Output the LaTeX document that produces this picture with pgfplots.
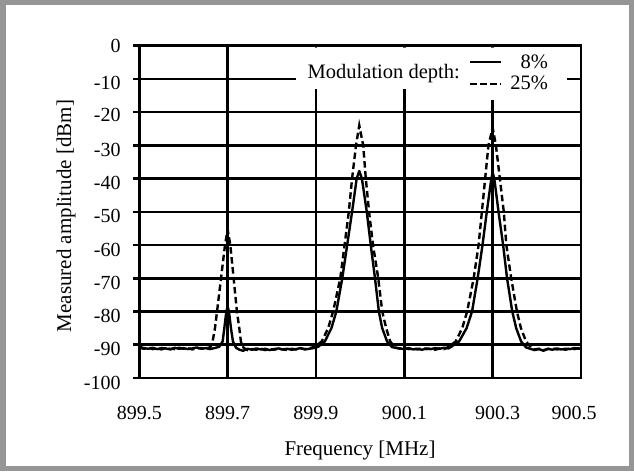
\documentclass[border=0pt]{standalone}
\usepackage{fontspec}
\setmainfont{Liberation Serif}
\usepackage{pgfplots}
\pgfplotsset{compat=1.18}
\definecolor{bord}{RGB}{150,150,150}
\begin{document}
\begin{tikzpicture}[x=1pt,y=1pt]
\useasboundingbox (0,0) rectangle (634,471);
\fill[white] (0,0) rectangle (634,471);
\draw[line width=5.5pt, bord] (2.75,2.75) rectangle (631.25,468.25);
\begin{axis}[
  at={(139.3pt,93pt)}, anchor=south west,
  scale only axis, width=441.7pt, height=332.3pt,
  xmin=899.5, xmax=900.5, ymin=-100, ymax=0,
  xtick={899.5,899.7,899.9,900.1,900.3,900.5},
  xticklabels={899.5,899.7,899.9,900.1,\kern10pt900.3,900.5\kern14pt},
  ytick={-100,-90,-80,-70,-60,-50,-40,-30,-20,-10,0},
  yticklabels={-100,-90,-80,-70,-60,-50,-40,-30,\raisebox{3pt}{-20},-10,\raisebox{8.5pt}{0}},
  ytick pos=left, tick align=outside, major tick length=6.5pt,
  xtick style={draw=none},
  ytick style={black, line width=2.6pt},
  grid=major,
  major grid style={black, line width=2.6pt},
  axis line style={black, line width=2.6pt},
  ticklabel style={font=\fontsize{20}{24}\selectfont, inner sep=0pt},
  xticklabel style={anchor=center, yshift=-28pt},
  yticklabel style={anchor=east, xshift=-12pt, yshift=-4.5pt},
  xlabel={Frequency [MHz]},
  ylabel={Measured amplitude [dBm]},
  label style={font=\fontsize{21}{25}\selectfont},
  xlabel style={at={(axis description cs:0.4997,-0.218)}, anchor=center},
  ylabel style={at={(axis description cs:-0.166,0.4875)}, anchor=center},
  legend image code/.code={\draw[#1] (0pt,0pt) -- (31pt,0pt);},
  legend style={at={(axis cs:900.43,-2.0)}, anchor=north east, draw=none, fill=none,
    inner sep=0pt, row sep=2.5pt, column sep=6pt, font=\fontsize{20.5}{24}\selectfont,
    nodes={inner sep=2pt}},
  legend cell align=right,
]
% 8% modulation depth (solid)
\addplot[black, line width=2.4pt, line join=round] coordinates {
(899.500,-90.6) (899.510,-91.0) (899.520,-91.2) (899.530,-90.9) (899.540,-91.3)
(899.550,-91.0) (899.560,-91.1) (899.570,-91.4) (899.580,-90.9) (899.590,-91.2)
(899.600,-91.0) (899.610,-91.3) (899.620,-91.1) (899.630,-90.8) (899.640,-91.2)
(899.650,-91.0) (899.660,-91.3) (899.670,-91.0)
(899.681,-90.6) (899.6887,-89) (899.6925,-85) (899.697,-80) (899.700,-78.5)
(899.703,-80) (899.7075,-85) (899.712,-89) (899.719,-90.9)
(899.727,-91.5) (899.735,-91.8) (899.745,-91.2) (899.755,-91.5) (899.765,-91.1)
(899.775,-91.4) (899.785,-91.2) (899.795,-91.6) (899.805,-91.3) (899.815,-91.1)
(899.825,-91.4) (899.835,-91.2) (899.845,-91.5) (899.855,-91.3) (899.865,-91.0)
(899.875,-91.4) (899.885,-91.2) (899.895,-91.0)
(899.905,-90.6) (899.920,-89) (899.935,-85) (899.946,-80) (899.9595,-70)
(899.9706,-60) (899.9817,-50) (899.9921,-40) (899.998,-37.7) (900.004,-40)
(900.015,-50) (900.024,-60) (900.0336,-70) (900.0424,-80) (900.0499,-85)
(900.061,-89) (900.072,-90.7)
(900.080,-90.9) (900.090,-91.1) (900.100,-91.3) (900.110,-91.0) (900.120,-91.4)
(900.130,-91.2) (900.140,-91.5) (900.150,-91.1) (900.160,-91.3) (900.170,-91.0)
(900.180,-91.2) (900.190,-90.9) (900.200,-91.1)
(900.205,-90.7) (900.224,-89) (900.241,-85) (900.2533,-80) (900.266,-70)
(900.277,-60) (900.2867,-50) (900.297,-40) (900.300,-38.2) (900.3037,-40)
(900.3133,-50) (900.3237,-60) (900.3326,-70) (900.3444,-80) (900.3533,-85)
(900.3644,-89) (900.3756,-90.8)
(900.385,-91.2) (900.395,-91.6) (900.405,-91.3) (900.415,-91.8) (900.425,-91.2)
(900.435,-91.5) (900.445,-91.1) (900.455,-91.4) (900.465,-91.2) (900.475,-91.3)
(900.485,-91.0) (900.495,-91.2) (900.500,-91.1)
};
\addlegendentry{8\%}
% 25% modulation depth (dashed)
\addplot[black, line width=2.4pt, dash pattern=on 6.5pt off 3.5pt] coordinates {
(899.500,-90.9) (899.510,-91.2) (899.520,-90.9) (899.530,-91.3) (899.540,-91.1)
(899.550,-91.4) (899.560,-91.0) (899.570,-91.2) (899.580,-91.3) (899.590,-90.9)
(899.600,-91.2) (899.610,-91.0) (899.620,-91.4) (899.630,-91.1) (899.640,-91.0)
(899.650,-91.2)
(899.661,-90.7) (899.666,-89) (899.6713,-85) (899.676,-80) (899.685,-70)
(899.694,-60) (899.700,-55.3) (899.706,-60) (899.7136,-70) (899.721,-80)
(899.7264,-85) (899.730,-89) (899.736,-90.9)
(899.745,-91.6) (899.755,-91.3) (899.765,-91.5) (899.775,-91.2) (899.785,-91.6)
(899.795,-91.3) (899.805,-91.5) (899.815,-91.2) (899.825,-91.4) (899.835,-91.6)
(899.845,-91.2) (899.855,-91.4) (899.865,-91.1) (899.875,-91.3) (899.885,-91.0)
(899.892,-90.8)
(899.898,-90.5) (899.913,-89) (899.9276,-85) (899.9387,-80) (899.955,-70)
(899.9647,-60) (899.9743,-50) (899.9817,-40) (899.9906,-30) (899.998,-24)
(900.0069,-30) (900.0128,-40) (900.0202,-50) (900.0291,-60) (900.041,-70)
(900.050,-80) (900.059,-85) (900.068,-89) (900.079,-90.8)
(900.090,-91.2) (900.100,-91.0) (900.110,-91.3) (900.120,-91.1) (900.130,-91.4)
(900.140,-91.0) (900.150,-91.3) (900.160,-91.2) (900.170,-91.5) (900.180,-91.1)
(900.190,-91.3)
(900.198,-90.8) (900.2163,-89) (900.2311,-85) (900.2422,-80) (900.257,-70)
(900.2681,-60) (900.2756,-50) (900.283,-40) (900.2904,-30) (900.300,-24.7)
(900.3074,-30) (900.3163,-40) (900.3252,-50) (900.331,-60) (900.342,-70)
(900.355,-80) (900.364,-85) (900.3756,-89) (900.3867,-90.8)
(900.395,-91.4) (900.405,-91.2) (900.415,-91.6) (900.425,-91.3) (900.435,-91.1)
(900.445,-91.4) (900.455,-91.2) (900.465,-91.5) (900.475,-91.1) (900.485,-91.3)
(900.495,-91.0) (900.500,-91.2)
};
\addlegendentry{25\%}
\fill[white] (axis cs:899.855,-0.6) -- (axis cs:900.468,-0.6) -- (axis cs:900.468,-16.3)
  -- (axis cs:900.249,-16.3) -- (axis cs:900.249,-13) -- (axis cs:899.855,-13) -- cycle;
\node[anchor=base east, inner sep=0pt, font=\fontsize{20.5}{24}\selectfont]
  at (axis cs:900.226,-10) {Modulation depth:};
\end{axis}
\end{tikzpicture}
\end{document}
